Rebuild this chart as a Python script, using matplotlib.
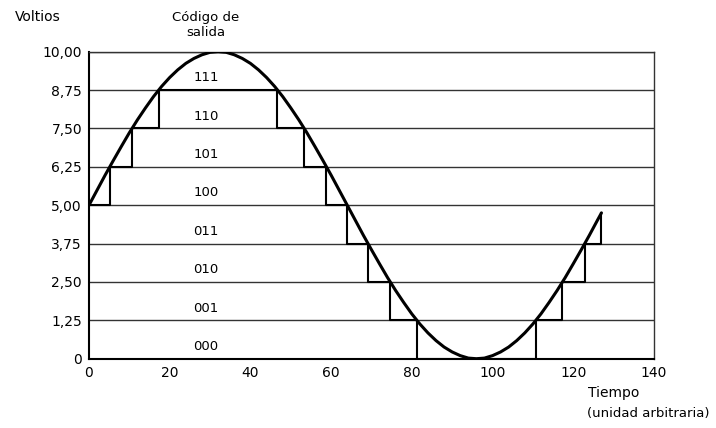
import matplotlib
matplotlib.use("Agg")
import matplotlib.pyplot as plt

# curve (tiempo, voltios)
t_curve = [0, 2, 4, 6, 8, 10, 12, 14, 16, 18, 20, 22, 24, 26, 28, 30, 32,
           34, 36, 38, 40, 42, 44, 46, 48, 50, 52, 54, 56, 58, 60, 62, 64,
           66, 68, 70, 72, 74, 76, 78, 80, 82, 84, 86, 88, 90, 92, 94, 96,
           98, 100, 102, 104, 106, 108, 110, 112, 114, 116, 118, 120, 122, 124, 126, 127]
v_curve = [5.00, 5.49, 5.98, 6.45, 6.91, 7.36, 7.78, 8.17, 8.54, 8.87, 9.16, 9.41, 9.62, 9.78, 9.90, 9.98, 10.00,
           9.98, 9.90, 9.78, 9.62, 9.41, 9.16, 8.87, 8.54, 8.17, 7.78, 7.36, 6.91, 6.45, 5.98, 5.49, 5.00,
           4.51, 4.02, 3.55, 3.09, 2.64, 2.22, 1.83, 1.46, 1.13, 0.84, 0.59, 0.38, 0.22, 0.10, 0.02, 0.00,
           0.02, 0.10, 0.22, 0.38, 0.59, 0.84, 1.13, 1.46, 1.83, 2.22, 2.64, 3.09, 3.55, 4.02, 4.51, 4.75]

# staircase of the output code (start of each step and its level)
t_step = [0, 5.2, 10.7, 17.3, 46.7, 53.3, 58.8, 64, 69.2, 74.7, 81.3, 110.7, 117.3, 122.8, 127]
v_step = [5.00, 6.25, 7.50, 8.75, 7.50, 6.25, 5.00, 3.75, 2.50, 1.25, 0.00, 1.25, 2.50, 3.75, 4.75]

niveles = [0, 1.25, 2.50, 3.75, 5.00, 6.25, 7.50, 8.75, 10.00]
etiquetas_y = ['0', '1,25', '2,50', '3,75', '5,00', '6,25', '7,50', '8,75', '10,00']
codigos = ['000', '001', '010', '011', '100', '101', '110', '111']
ticks_x = [0, 20, 40, 60, 80, 100, 120, 140]

plt.rcParams['font.family'] = ['DejaVu Sans']

fig = plt.figure(figsize=(7.16, 4.28), dpi=100)
ax = fig.add_axes([0.1243, 0.1619, 0.789, 0.7173])

# horizontal lines at every quantisation level
for n in niveles[1:]:
    ax.axhline(n, color='#333333', lw=1.0, zorder=1)

ax.step(t_step, v_step, where='post', color='black', lw=1.5, zorder=2)
ax.plot(t_curve, v_curve, color='black', lw=2.2, zorder=3,
        solid_joinstyle='round', solid_capstyle='round')

for c, n in zip(codigos, niveles[:-1]):
    ax.text(29, n + 0.4, c, ha='center', va='center', fontsize=9.5)

ax.set_xlim(0, 140)
ax.set_ylim(0, 10)
ax.set_xticks(ticks_x)
ax.set_yticks(niveles)
ax.set_yticklabels(etiquetas_y)
ax.tick_params(length=0, labelsize=10, pad=5)

for s in ['left', 'bottom']:
    ax.spines[s].set_linewidth(1.5)
for s in ['top', 'right']:
    ax.spines[s].set_linewidth(1.0)
    ax.spines[s].set_color('#333333')

fig.text(15 / 716, 1 - 17 / 428, 'Voltios', ha='left', va='center', fontsize=10)
fig.text(206 / 716, 1 - 25 / 428, 'Código de\nsalida', ha='center', va='center',
         fontsize=9.5, linespacing=1.1)
fig.text(588 / 716, 1 - 393 / 428, 'Tiempo', ha='left', va='center', fontsize=10)
fig.text(587 / 716, 1 - 414 / 428, '(unidad arbitraria)', ha='left', va='center', fontsize=9.5)

fig.savefig('out.png', dpi=100)
